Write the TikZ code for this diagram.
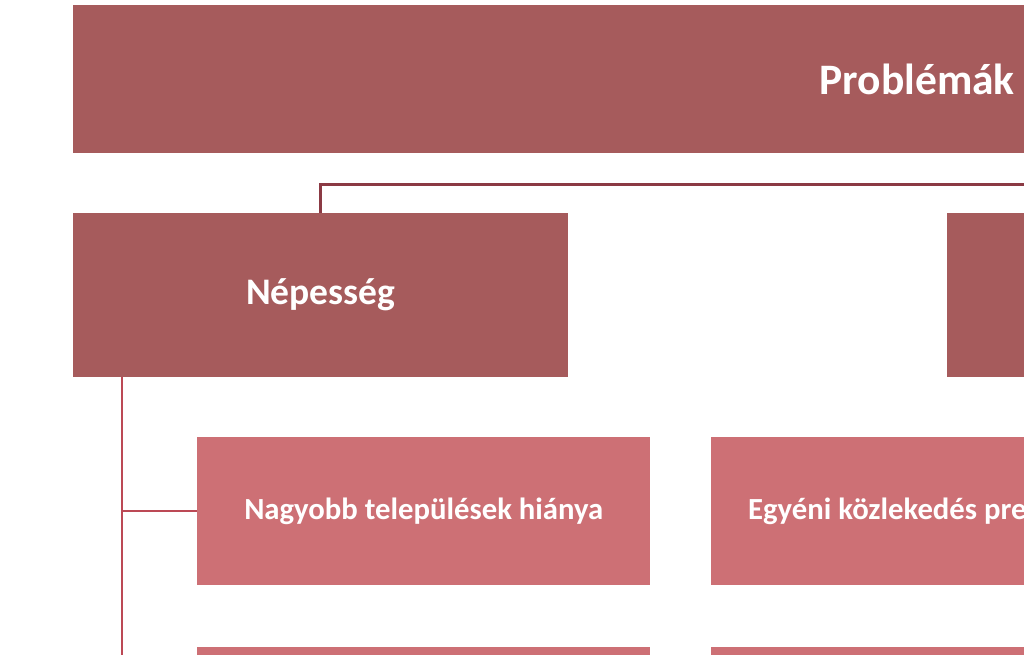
\documentclass[tikz,border=0pt]{standalone}
\usepackage{fontspec}
\setmainfont{Carlito}
\definecolor{boxdark}{HTML}{A65B5C}
\definecolor{boxlight}{HTML}{CD7075}
\definecolor{linkdark}{HTML}{8B3A44}
\definecolor{linklight}{HTML}{BC4955}
\tikzset{
  levelone/.style={fill=boxdark, text=white, font=\bfseries\fontsize{43.5}{50}\selectfont, inner sep=0pt, anchor=north west, minimum height=148pt},
  leveltwo/.style={fill=boxdark, text=white, font=\bfseries\fontsize{37.5}{44}\selectfont, inner sep=0pt, anchor=north west, minimum width=495pt, minimum height=164pt},
  levelthree/.style={fill=boxlight, text=white, font=\bfseries\fontsize{30.7}{36}\selectfont, inner sep=0pt, anchor=north west, minimum width=453pt, minimum height=148pt},
  link/.style={draw=linkdark, line width=3pt},
  branch/.style={draw=linklight, line width=2pt}
}
\begin{document}
\begin{tikzpicture}[x=1pt, y=-1pt]
  \useasboundingbox (0, 0) rectangle (1024, 655);
  \fill[white] (0, 0) rectangle (1024, 655);
  \clip (0, 0) rectangle (1024, 655);

  % top level
  \node[levelone, minimum width=1688pt] (prob) at (73, 5) {Problémák};

  % second level
  \node[leveltwo] (nep) at (73, 213) {Népesség};
  \node[leveltwo] (other) at (947, 213) {};
  \coordinate (probright) at (1030, 184);
  \draw[link] (nep.north) |- (probright);

  % third level
  \node[levelthree] (nagy) at (197, 437) {Nagyobb települések hiánya};
  \node[levelthree, inner xsep=37pt] (egyeni) at (711, 437) {\makebox[379pt][l]{Egyéni közlekedés pre}};
  \node[levelthree] (nagyb) at (197, 647) {};
  \node[levelthree] (egyenib) at (711, 647) {};

  \coordinate (trunk) at (122, 377);
  \coordinate (trunkend) at (122, 660);
  \draw[branch] (trunk) -- (trunkend);
  \draw[branch] (trunk |- nagy.west) -- (nagy.west);
\end{tikzpicture}
\end{document}
